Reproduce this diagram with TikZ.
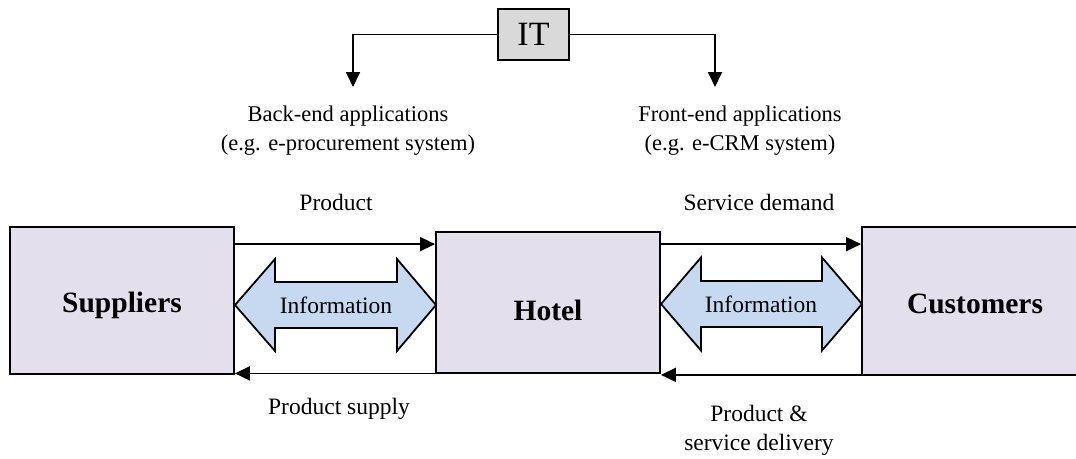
\documentclass[tikz,border=0pt]{standalone}
\usepackage{fontspec}
\setmainfont{Liberation Serif}
\usetikzlibrary{arrows.meta,calc}
\definecolor{boxfill}{RGB}{228,223,236}
\definecolor{infofill}{RGB}{198,217,241}
\definecolor{itfill}{RGB}{217,217,217}
\begin{document}
\begin{tikzpicture}[x=1pt,y=-1pt, line width=1.8pt,
  ent/.style={draw, fill=boxfill, font=\fontsize{29.5}{34}\selectfont\bfseries, inner sep=0pt, text depth=0pt},
  lbl/.style={font=\fontsize{23.5}{29}\selectfont, align=center, inner sep=0pt},
  toplbl/.style={font=\fontsize{22.5}{29}\selectfont, align=center, inner sep=0pt},
  arr/.style={-{Triangle[length=15pt,width=14pt]}},
  info/.style={draw, fill=infofill, line join=miter},
]
\useasboundingbox (0,0) rectangle (1076,458);

% entity boxes
\node[ent, minimum width=224pt, minimum height=147pt, text height=23pt] (sup) at (122,300.5) {Suppliers};
\node[ent, minimum width=224pt, minimum height=141pt, text height=36pt] (hotel) at (548,302.5) {Hotel};
\node[ent, minimum width=226pt, minimum height=148pt, text height=24pt] (cus) at (975,301) {Customers};

% IT box
\node[draw, fill=itfill, minimum width=71pt, minimum height=51pt, inner sep=0pt,
      font=\fontsize{34}{38}\selectfont] (it) at (533.5,34.5) {IT};
\coordinate (be) at (353,87);
\coordinate (fe) at (715,87);
\draw[arr] (it.west) -| (be);
\draw[arr] (it.east) -| (fe);

\node[toplbl] (betxt) at (348,131) {Back-end applications\\(e.g. e-procurement system)};
\node[toplbl] (fetxt) at (740,131) {Front-end applications\\(e.g. e-CRM system)};

% information double arrows
\draw[info] (235,305) -- (275,259) -- (275,282) -- (397,282) -- (397,259) -- (436,305)
  -- (397,351) -- (397,328) -- (275,328) -- (275,351) -- cycle;
\node[lbl] (info1) at (336,305) {Information};
\draw[info] (661,304) -- (701,257.5) -- (701,281) -- (822,281) -- (822,257.5) -- (862,304)
  -- (822,350.5) -- (822,327) -- (701,327) -- (701,350.5) -- cycle;
\node[lbl] (info2) at (761,304) {Information};

% flows
\draw[arr] ([yshift=-18pt]sup.north east) -- ([yshift=-18pt]sup.north east -| hotel.west);
\draw[arr] ([yshift=-13pt]hotel.north east) -- ([yshift=-13pt]hotel.north east -| cus.west);
\draw[arr] ([yshift=0.5pt]hotel.south west) -- ([yshift=0.5pt]hotel.south west -| sup.east);
\draw[arr] ([yshift=1pt]cus.south west) -- ([yshift=1pt]cus.south west -| hotel.east);

\node[lbl] (prod) at (336,202) {Product};
\node[lbl] (sdem) at (759,202) {Service demand};
\node[lbl] (psup) at (339,409) {Product supply};
\node[lbl] (psd) at (759,430) {Product \&\\service delivery};
\end{tikzpicture}
\end{document}
